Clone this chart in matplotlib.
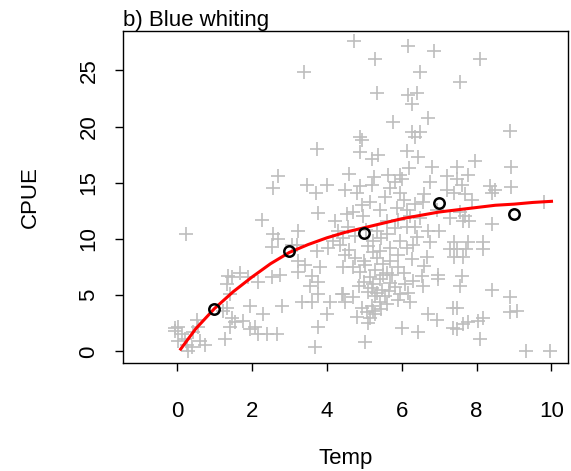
import numpy as np
import matplotlib
matplotlib.use('Agg')
import matplotlib.pyplot as plt

plt.rcParams['font.family'] = ['Liberation Sans', 'DejaVu Sans']

temp = [3.4, 4.72, 6.16, 6.85, 5.28, 6.48, 5.33, 6.16, 6.40, 6.27, 5.76, 6.69, 4.88, 6.27, 6.48,
        8.08, 7.55, 8.88, 0.24,
        3.73, 2.69, 2.56, 3.47, 4.0, 3.71, 3.76, 2.27, 3.23, 4.21, 2.56, 2.69, 4.29, 4.16, 3.2, 3.07,
        4.93, 6.35, 4.88, 5.36, 5.2, 6.13, 6.43, 6.8, 5.95, 5.63, 6.0, 5.81, 4.88, 5.2, 6.75, 7.2,
        4.48, 5.95, 5.55, 4.8, 7.2, 6.35, 6.13, 6.56, 5.87, 5.41, 5.15, 4.69, 4.53, 4.96, 6.48, 6.21,
        6.35, 6.13, 5.6, 5.81, 5.33, 5.6, 5.23, 6.69, 6.75, 5.95, 6.29, 7.01, 4.43, 7.28, 4.56,
        7.95, 8.93, 7.47, 7.47, 7.76, 7.6, 8.35, 8.48, 8.4, 8.93, 7.68, 7.41, 9.81, 7.87, 7.55, 7.68,
        7.81, 8.4, 7.63, 7.41, 7.76, 8.16,
        1.36, 1.33, 1.41, 0.03, -0.05, 0.13, 0.21, 0.03, 0.27, 0.29, 0.53, 0.56, 0.43, 0.61, 0.75,
        0.4, 1.28, 1.41, 1.47, 1.33, 1.23, -0.05,
        1.47, 1.68, 1.89, 2.16, 2.53, 2.75, 3.23, 3.41, 3.23, 3.6, 3.81, 3.76, 4.03, 4.35, 3.73, 2.53,
        1.95, 2.29, 2.8, 3.33, 3.6, 3.76, 4.08, 4.0, 4.4, 1.55, 2.08, 2.16, 2.4, 2.67, 3.76, 3.68,
        3.55, 1.76, 1.95,
        4.48, 4.43, 4.69, 4.88, 5.01, 5.23, 5.41, 5.68, 5.89, 6.13, 6.27, 6.67, 6.53, 6.96, 6.96,
        7.28, 6.56, 5.15, 5.41, 5.23, 5.68, 5.81, 5.47, 5.09, 5.28, 5.95, 6.16, 6.21, 5.89, 4.43,
        4.48, 5.41, 5.2, 4.93, 5.07, 4.8, 5.15, 5.23, 6.69, 6.93, 6.0, 6.43, 5.01, 7.36, 7.36,
        7.47, 7.73, 8.16, 7.41, 7.63, 7.6, 7.55, 8.4, 8.88, 7.49, 8.88, 9.07, 8.16, 8.03, 7.76,
        7.63, 7.47, 8.08, 9.33, 9.95,
        4.6, 4.75, 5.0, 5.1, 5.3, 5.5, 5.35, 5.6, 5.75, 5.5, 5.9, 6.05, 5.7, 5.2, 5.35, 5.55,
        5.65, 5.0, 4.85, 5.45, 5.6, 5.3, 5.1, 4.7, 6.3, 6.6, 6.1, 6.4, 5.45, 5.05, 4.75, 5.9,
        6.05, 5.7, 6.6, 5.25, 6.95, 4.95, 4.6, 6.2]
cpue = [24.9, 27.6, 27.2, 26.7, 26.0, 24.9, 23.0, 22.8, 23.0, 22.0, 20.4, 20.8, 19.1, 19.5, 19.5,
        26.0, 24.0, 19.6, 10.4,
        18.0, 15.6, 14.5, 14.8, 14.8, 14.1, 12.3, 11.7, 10.7, 11.6, 10.4, 10.0, 10.7, 9.8, 9.5, 9.5,
        18.8, 19.1, 17.7, 17.5, 17.1, 17.8, 17.3, 16.4, 15.7, 15.7, 15.3, 15.1, 14.7, 14.8, 15.1, 15.6,
        14.4, 14.1, 13.7, 14.1, 14.4, 13.1, 12.6, 13.3, 12.8, 12.6, 13.3, 12.4, 12.2, 12.0, 11.9, 12.0,
        11.1, 11.1, 11.6, 11.0, 10.7, 10.4, 9.8, 10.7, 9.7, 9.8, 9.5, 10.7, 10.1, 11.9, 11.1,
        16.9, 16.4, 16.4, 15.3, 15.7, 14.8, 14.7, 14.4, 14.1, 14.6, 14.0, 14.1, 13.3, 13.5, 12.4, 12.0,
        11.6, 11.3, 11.6, 9.7, 9.7, 9.7,
        6.7, 6.0, 5.1, 2.2, 1.8, 1.5, 1.1, 0.9, 0.6, 0.0, 2.8, 2.2, 1.7, 0.9, 0.6,
        0.4, 1.1, 2.2, 3.0, 3.9, 3.6, 2.1,
        6.6, 7.0, 6.6, 6.2, 6.6, 6.8, 7.1, 7.7, 8.0, 6.7, 7.5, 6.2, 9.2, 9.5, 8.9, 9.3,
        4.0, 3.3, 4.0, 4.4, 4.4, 5.1, 4.4, 3.3, 5.1, 2.6, 2.2, 1.5, 1.5, 1.5, 2.2, 0.4,
        5.8, 2.7, 2.0,
        8.6, 7.5, 7.5, 7.1, 7.7, 8.8, 8.9, 9.2, 8.6, 9.2, 8.2, 8.4, 6.7, 6.8, 6.4,
        9.1, 5.8, 6.6, 6.4, 6.0, 6.1, 5.7, 5.5, 5.3, 4.9, 5.1, 5.2, 4.4, 4.6, 5.1,
        4.4, 4.4, 4.0, 3.9, 3.5, 3.1, 3.0, 3.6, 3.3, 2.8, 2.1, 1.7, 0.8, 2.1, 3.9,
        9.1, 9.1, 9.1, 8.4, 8.4, 6.7, 5.8, 5.5, 4.8, 3.9, 3.5, 3.6, 3.0, 2.7, 2.6,
        2.4, 2.0, 1.1, 0.0, 0.0,
        9.0, 8.3, 8.0, 9.4, 7.2, 7.8, 8.3, 7.0, 6.8, 6.8, 7.5, 7.0, 8.0, 5.6, 5.2, 4.9,
        5.4, 6.2, 5.8, 3.8, 4.2, 3.3, 2.5, 4.8, 6.3, 7.6, 6.0, 10.2, 10.1, 10.8, 10.3, 11.7,
        13.5, 14.5, 14.0, 15.5, 12.6, 13.0, 15.8, 16.3]

# binned means
bin_temp = [1, 3, 5, 7, 9]
bin_cpue = [3.8, 8.9, 10.5, 13.2, 12.2]

# fitted curve
fit_temp = [0.1, 0.5, 1.0, 1.5, 2.0, 2.5, 3.0, 3.5, 4.0, 4.5, 5.0, 5.5, 6.0, 6.5, 7.0,
            7.5, 8.0, 8.5, 9.0, 9.5, 10.0]
fit_cpue = [0.2, 2.0, 3.8, 5.3, 6.6, 7.8, 8.8, 9.5, 10.1, 10.6, 11.0, 11.4, 11.8, 12.1, 12.4,
            12.6, 12.8, 13.0, 13.1, 13.25, 13.35]

fig = plt.figure(figsize=(5.71, 4.71), dpi=100)
ax = fig.add_axes([0.2154, 0.229, 0.7793, 0.705])

grey = '#bebebe'
ax.plot(temp, cpue, linestyle='none', marker='+', ms=9.5, mew=1.2, color=grey)
ax.plot(fit_temp, fit_cpue, color='#ff0000', lw=2.2)
ax.plot(bin_temp, bin_cpue, linestyle='none', marker='o', ms=7.5, mew=1.8,
        mfc='none', mec='black')

ax.set_xlim(-1.44, 10.44)
ax.set_ylim(-1.05, 28.5)
ax.set_xticks(np.arange(0, 11, 2))
ax.set_yticks(np.arange(0, 26, 5))
ax.tick_params(direction='out', length=6, width=1, labelsize=16)
ax.tick_params(axis='x', pad=21)
ax.tick_params(axis='y', pad=11)
for lab in ax.get_yticklabels():
    lab.set_rotation(90)
    lab.set_va('center')
for s in ax.spines.values():
    s.set_linewidth(1)

ax.set_xlabel('Temp', fontsize=16, labelpad=19)
ax.set_ylabel('CPUE', fontsize=16, labelpad=27)
ax.set_title('b) Blue whiting', fontsize=16, loc='left', pad=3)

fig.savefig('out.png', dpi=100)
